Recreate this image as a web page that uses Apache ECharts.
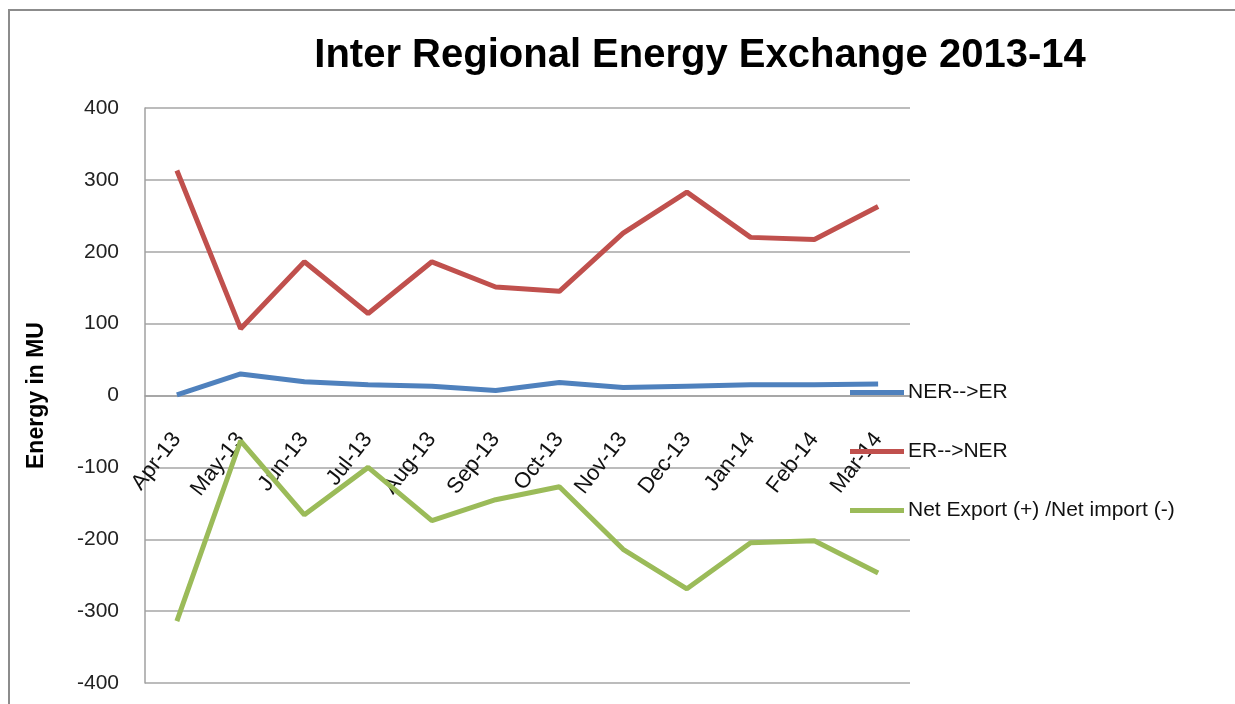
<!DOCTYPE html>
<html>
<head>
<meta charset="utf-8">
<script src="https://cdn.jsdelivr.net/npm/echarts@6/dist/echarts.min.js"></script>
<style>
html,body{margin:0;padding:0;background:#fff;}
#chart{width:1235px;height:704px;}
</style>
</head>
<body>
<div id="chart"></div>
<script>
const categories = ['Apr-13','May-13','Jun-13','Jul-13','Aug-13','Sep-13','Oct-13','Nov-13','Dec-13','Jan-14','Feb-14','Mar-14'];
const nerToEr = [1, 30, 19, 15, 13, 7, 18, 11, 13, 15, 15, 16];
const erToNer = [313, 93, 186, 114, 186, 151, 145, 226, 283, 220, 217, 263];
const netExport = [-314, -63, -166, -100, -174, -145, -127, -214, -269, -205, -202, -247];
const seriesNames = ['NER-->ER', 'ER-->NER', 'Net Export (+) /Net import (-)'];
const yTicks = { min: -400, max: 400, interval: 100 };

const chart = echarts.init(document.getElementById('chart'));
const lbl = '"Liberation Sans", Arial, sans-serif';
chart.setOption({
  animation: false,
  backgroundColor: '#ffffff',
  title: {
    text: 'Inter Regional Energy Exchange 2013-14',
    left: 695, textAlign: 'center', top: 31,
    textStyle: { fontFamily: lbl, fontWeight: 'bold', fontSize: 40, color: '#000' }
  },
  graphic: [{
    type: 'rect', shape: { x: 9, y: 10, width: 1400, height: 900 }, silent: true,
    style: { fill: 'none', stroke: '#8c8c8c', lineWidth: 2 }
  }],
  legend: {
    orient: 'vertical', left: 845, top: 377, itemWidth: 54, itemHeight: 5, itemGap: 38,
    icon: 'rect', selectedMode: false,
    textStyle: { fontFamily: lbl, fontSize: 21, color: '#111', padding: [0,0,0,-1] },
    data: seriesNames
  },
  grid: { left: 145, right: 325, top: 108, bottom: 21, containLabel: false, outerBoundsMode: 'none' },
  xAxis: {
    type: 'category', data: categories, boundaryGap: true, position: 'bottom', offset: -287.5,
    axisLine: { onZero: false, lineStyle: { color: '#a0a0a0', width: 1.5 } },
    axisTick: { show: false },
    axisLabel: { rotate: 52, margin: 40, fontFamily: lbl, fontSize: 22, color: '#111', interval: 0 },
    splitLine: { show: false }
  },
  yAxis: {
    type: 'value', min: yTicks.min, max: yTicks.max, interval: yTicks.interval,
    name: 'Energy in MU', nameLocation: 'middle', nameGap: 97, nameRotate: 90,
    nameTextStyle: { fontFamily: lbl, fontWeight: 'bold', fontSize: 23, color: '#000' },
    axisLine: { show: true, lineStyle: { color: '#a0a0a0', width: 1.5 } },
    axisTick: { show: false },
    axisLabel: { margin: 26, fontFamily: lbl, fontSize: 21, color: '#222' },
    splitLine: { show: true, lineStyle: { color: '#a6a6a6', width: 1.5 } }
  },
  series: [
    { name: seriesNames[0], type: 'line', data: nerToEr, symbol: 'none', lineStyle: { width: 5, color: '#4F81BD' }, itemStyle: { color: '#4F81BD' } },
    { name: seriesNames[1], type: 'line', data: erToNer, symbol: 'none', lineStyle: { width: 5, color: '#C0504D' }, itemStyle: { color: '#C0504D' } },
    { name: seriesNames[2], type: 'line', data: netExport, symbol: 'none', lineStyle: { width: 5, color: '#9BBB59' }, itemStyle: { color: '#9BBB59' } }
  ]
});
</script>
</body>
</html>
